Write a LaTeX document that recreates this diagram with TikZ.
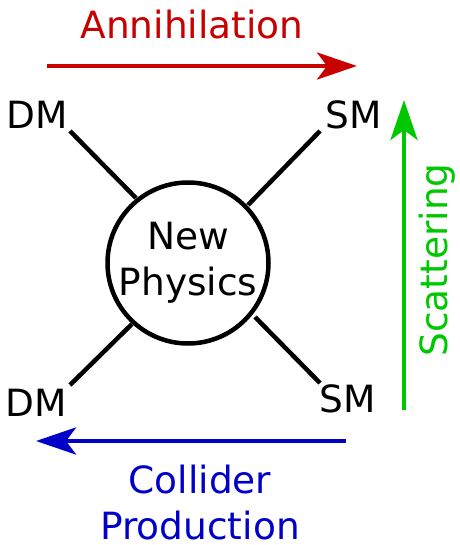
\documentclass[tikz,border=0pt]{standalone}
\usepackage{fontspec}
\setmainfont{DejaVu Sans}
\usetikzlibrary{arrows.meta}
\definecolor{rojo}{RGB}{200,0,0}
\definecolor{verde}{RGB}{0,200,0}
\definecolor{azul}{RGB}{0,0,200}
\tikzset{
  lbl/.style={font=\fontsize{37.5}{46}\selectfont, inner sep=0pt, align=center},
  leg/.style={line width=4.5pt, black},
  proc/.style={-{Stealth[length=40pt, width=27pt, inset=10pt]}, line width=4.5pt},
}
\begin{document}
\begin{tikzpicture}[x=1pt,y=-1pt]
  \useasboundingbox (0,0) rectangle (459,545);
  \node[draw, circle, line width=4.5pt, minimum size=161pt, inner sep=0pt] (np) at (188,263) {};
  \node[lbl] (txt) at (188,263) {New\\Physics};
  \node[lbl] (dm1) at (37,115) {DM};
  \node[lbl] (sm1) at (354,115) {SM};
  \node[lbl] (dm2) at (36,403) {DM};
  \node[lbl] (sm2) at (348,399) {SM};
  \coordinate (a1) at (70,131); \coordinate (b1) at (136,198);
  \coordinate (a2) at (320,131); \coordinate (b2) at (248,205);
  \coordinate (a3) at (70,385); \coordinate (b3) at (132,324);
  \coordinate (a4) at (320,383); \coordinate (b4) at (255,317);
  \draw[leg] (a1)--(b1); \draw[leg] (a2)--(b2);
  \draw[leg] (a3)--(b3); \draw[leg] (a4)--(b4);
  % processes
  \node[lbl, text=rojo] (ann) at (192,25) {Annihilation};
  \coordinate (r0) at (47,66); \coordinate (r1) at (357,66);
  \draw[proc, rojo] (r0)--(r1);
  \coordinate (g0) at (404,410); \coordinate (g1) at (404,100);
  \draw[proc, verde] (g0)--(g1);
  \node[lbl, text=verde, rotate=90] (sca) at (437,260) {Scattering};
  \coordinate (c0) at (346,441); \coordinate (c1) at (36,441);
  \draw[proc, azul] (c0)--(c1);
  \node[lbl, text=azul] (col) at (200,503) {Collider\\Production};
\end{tikzpicture}
\end{document}
